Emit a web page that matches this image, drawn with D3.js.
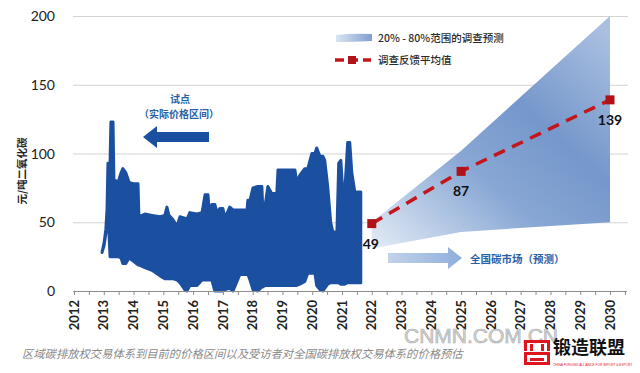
<!DOCTYPE html>
<html>
<head>
<meta charset="utf-8">
<script src="https://cdn.jsdelivr.net/npm/d3@7"></script>
<style>
  body { margin: 0; background: #fff; }
  svg { display: block; }
  .cjk { font-family: "Noto Sans CJK SC", sans-serif; }
  .num { font-family: Lato, "Liberation Sans", sans-serif; }
</style>
</head>
<body>
<div id="chart"></div>
<script>
const pilotYears = [2012.94, 2013.01, 2013.07, 2013.11, 2013.14, 2013.21, 2013.24, 2013.31, 2013.34, 2013.48,
  2013.58, 2013.64, 2013.74, 2013.85, 2013.98, 2014.15, 2014.18, 2014.38, 2014.62, 2014.89,
  2015.05, 2015.12, 2015.19, 2015.32, 2015.46, 2015.56, 2015.72, 2015.79, 2015.89, 2016.13,
  2016.30, 2016.40, 2016.50, 2016.56, 2016.63, 2016.73, 2016.80, 2016.90, 2017.00, 2017.07,
  2017.23, 2017.34, 2017.57, 2017.81, 2017.84, 2017.91, 2018.01, 2018.17, 2018.31, 2018.34,
  2018.41, 2018.51, 2018.64, 2018.81, 2018.85, 2019.42, 2019.48, 2019.58, 2019.75, 2019.85,
  2019.99, 2020.09, 2020.15, 2020.26, 2020.36, 2020.42, 2020.52, 2020.62, 2020.69, 2020.83,
  2020.89, 2020.96, 2021.03, 2021.09, 2021.19, 2021.26, 2021.33, 2021.43, 2021.63];
const pilotHigh = [28, 35, 45, 60, 93, 93, 123, 123, 81, 79,
  86, 89, 86, 79, 78, 78, 54, 56, 55, 54,
  55, 61, 55, 52, 47, 54, 53, 52, 57, 56,
  57, 70, 70, 53, 63, 63, 57, 60, 60, 53,
  61, 59, 59, 59, 66, 66, 75, 76, 76, 59,
  61, 76, 71, 71, 88, 88, 79, 84, 89, 89,
  100, 100, 104, 98, 98, 95, 76, 50, 43, 43,
  93, 95, 71, 71, 108, 108, 86, 72, 72];
const pilotLow = [28, 33, 42, 55, 58, 25, 25, 25, 25, 25,
  24, 20, 20, 24, 22, 19, 19, 17, 15, 11,
  9, 9, 9, 9, 8, 6, 1, 0, 4, 4,
  8, 8, 8, 8, 8, 0, 0, 0, 0, 1,
  2, 0, 12, 12, 12, 8, 1, 0, 3, 3,
  4, 4, 4, 4, 4, 4, 4, 5, 7, 13,
  13, 13, 4, 1, 0, 2, 5, 6, 6, 6,
  6, 5, 5, 5, 6, 6, 6, 6, 6];

// survey forecast
const forecastYears = [2022, 2025, 2030];
const forecastP80 = [50, 102, 200];
const forecastP20 = [31, 43, 50];
const forecastMean = [49, 87, 139];

const yearTicks = d3.range(2012, 2031);
const yTicks = [0, 50, 100, 150, 200];

const W = 640, H = 373;
const svg = d3.select("#chart").append("svg").attr("width", W).attr("height", H);

const x = d3.scaleLinear().domain([2012, 2030]).range([74, 610]);
const y = d3.scaleLinear().domain([0, 200]).range([291, 16]);

const defs = svg.append("defs");
const g1 = defs.append("linearGradient").attr("id", "fc").attr("x1", 0).attr("y1", 1).attr("x2", 0.9).attr("y2", 0);
g1.append("stop").attr("offset", "0%").attr("stop-color", "#e4ecf6");
g1.append("stop").attr("offset", "40%").attr("stop-color", "#88a7d4");
g1.append("stop").attr("offset", "65%").attr("stop-color", "#7597cb");
g1.append("stop").attr("offset", "100%").attr("stop-color", "#a9bfe0");
const g2 = defs.append("linearGradient").attr("id", "lg").attr("x1", 0).attr("x2", 1);
g2.append("stop").attr("offset", "0%").attr("stop-color", "#dbe5f2");
g2.append("stop").attr("offset", "100%").attr("stop-color", "#7f9fcf");
const g3 = defs.append("linearGradient").attr("id", "ar").attr("x1", 0).attr("x2", 1);
g3.append("stop").attr("offset", "0%").attr("stop-color", "#c2d3ea");
g3.append("stop").attr("offset", "100%").attr("stop-color", "#8eaedb");

// grid lines
svg.append("g")
  .attr("transform", "translate(73,0)")
  .call(d3.axisLeft(y).tickValues(yTicks.slice(1)).tickSize(-555).tickFormat(""))
  .call(g => g.select(".domain").remove())
  .call(g => g.selectAll("line").attr("stroke", "#d4d4d4"));

// y labels
svg.append("g").selectAll("text").data(yTicks).join("text")
  .attr("class", "num")
  .attr("x", 55).attr("y", d => y(d)).attr("dy", "0.36em")
  .attr("text-anchor", "end").attr("font-size", 14).attr("fill", "#222")
  .text(d => d);

// forecast band
svg.append("path")
  .datum(forecastYears.map((d, i) => [d, forecastP20[i], forecastP80[i]]))
  .attr("fill", "url(#fc)")
  .attr("d", d3.area().x(d => x(d[0])).y0(d => y(d[1])).y1(d => y(d[2])));

// pilot range
const pilot = pilotYears.map((d, i) => [d, pilotLow[i], pilotHigh[i]]);
svg.append("path")
  .datum(pilot)
  .attr("fill", "#1b4f9f").attr("stroke", "#1b4f9f").attr("stroke-width", 3)
  .attr("stroke-linejoin", "round")
  .attr("d", d3.area().x(d => x(d[0])).y0(d => y(d[1])).y1(d => y(d[2])));

// x axis
const xMinor = x.copy().domain([2012, 2030.5]).range([x(2012), x(2030.5)]);
svg.append("g")
  .attr("transform", "translate(0,291)")
  .call(d3.axisBottom(xMinor).tickValues(d3.range(2012, 2030.6, 0.5)).tickSize(4).tickFormat("").tickSizeOuter(0))
  .call(g => g.select(".domain").attr("stroke", "#8c8c8c").attr("d", `M73,0.5H627`))
  .call(g => g.selectAll("line").attr("stroke", "#8c8c8c"));

svg.append("g").selectAll("text").data(yearTicks).join("text")
  .attr("class", "num")
  .attr("transform", d => `translate(${x(d)},300) rotate(-90)`)
  .attr("text-anchor", "end").attr("dy", "0.36em")
  .attr("font-size", 13).attr("font-weight", "bold").attr("fill", "#222")
  .text(d => d);

// mean line
svg.append("path")
  .datum(forecastYears.map((d, i) => [d, forecastMean[i]]))
  .attr("fill", "none").attr("stroke", "#c3161c").attr("stroke-width", 3.5)
  .attr("stroke-dasharray", "12,8")
  .attr("d", d3.line().x(d => x(d[0])).y(d => y(d[1])));
svg.append("g").selectAll("rect").data(forecastYears).join("rect")
  .attr("x", d => x(d) - 4.5).attr("y", (d, i) => y(forecastMean[i]) - 4.5)
  .attr("width", 9).attr("height", 9).attr("fill", "#b01218");
svg.append("g").selectAll("text").data(forecastYears).join("text")
  .attr("class", "num")
  .attr("x", d => x(d) + (d === 2022 ? -1 : 0)).attr("y", (d, i) => y(forecastMean[i]) + 20)
  .attr("dy", "0.36em").attr("text-anchor", "middle")
  .attr("font-size", 14).attr("font-weight", "bold").attr("fill", "#111")
  .text((d, i) => forecastMean[i]);

// legend
svg.append("path").attr("d", "M336,35 Q354,33 372,34 L372,41 Q354,42 336,42 Z").attr("fill", "url(#lg)");
svg.append("text").attr("class", "cjk").attr("x", 378).attr("y", 38).attr("dy", "0.36em")
  .attr("font-size", 10.5).attr("font-weight", 500).attr("fill", "#2a2a2a").text("20% - 80%范围的调查预测");
svg.append("line").attr("x1", 335).attr("x2", 371).attr("y1", 60).attr("y2", 60)
  .attr("stroke", "#c3161c").attr("stroke-width", 3.5).attr("stroke-dasharray", "9,5");
svg.append("rect").attr("x", 348).attr("y", 56).attr("width", 8).attr("height", 8).attr("fill", "#b01218");
svg.append("text").attr("class", "cjk").attr("x", 378).attr("y", 60).attr("dy", "0.36em")
  .attr("font-size", 10.5).attr("font-weight", 500).attr("fill", "#2a2a2a").text("调查反馈平均值");

// annotations
svg.append("text").attr("class", "cjk").attr("x", 180).attr("y", 99).attr("dy", "0.36em")
  .attr("text-anchor", "middle").attr("font-size", 10).attr("font-weight", "bold").attr("fill", "#2a5fa8").text("试点");
svg.append("text").attr("class", "cjk").attr("x", 179).attr("y", 114).attr("dy", "0.36em")
  .attr("text-anchor", "middle").attr("font-size", 10).attr("font-weight", "bold").attr("fill", "#2a5fa8").text("（实际价格区间）");
svg.append("path").attr("d", "M143,137 L157,126 L157,132 L209,132 L209,142 L157,142 L157,148 Z").attr("fill", "#1b4f9f");
svg.append("path").attr("d", "M388,253 L448,253 L448,247 L462,258 L448,269 L448,263 L388,263 Z").attr("fill", "url(#ar)");
svg.append("text").attr("class", "cjk").attr("x", 470).attr("y", 259).attr("dy", "0.36em")
  .attr("font-size", 10.5).attr("font-weight", "bold").attr("fill", "#2a5fa8").text("全国碳市场（预测）");

// y title
svg.append("text").attr("class", "cjk")
  .attr("transform", "translate(22,171) rotate(-90)")
  .attr("text-anchor", "middle").attr("dy", "0.36em")
  .attr("font-size", 10.5).attr("font-weight", "bold").attr("fill", "#222").text("元/吨二氧化碳");

// caption + watermark
svg.append("text").attr("class", "cjk").attr("x", 22).attr("y", 354).attr("dy", "0.36em")
  .attr("font-size", 11.3).attr("font-style", "italic").attr("fill", "#8a8a8a")
  .text("区域碳排放权交易体系到目前的价格区间以及受访者对全国碳排放权交易体系的价格预估");
svg.append("text").attr("x", 404).attr("y", 343)
  .attr("font-family", "Liberation Sans, sans-serif").attr("font-size", 21)
  .attr("fill", "#d6d6d6").attr("stroke", "#aaaaaa").attr("stroke-width", 0.6)
  .text("CNMN.COM.CN");

// logo
const logo = svg.append("g").attr("transform", "translate(524,340)").attr("fill", "#e0141e");
logo.append("rect").attr("x", 0).attr("y", 0).attr("width", 26).attr("height", 3);
logo.append("rect").attr("x", 0).attr("y", 0).attr("width", 3).attr("height", 11);
logo.append("rect").attr("x", 23).attr("y", 0).attr("width", 3).attr("height", 11);
logo.append("rect").attr("x", 6).attr("y", 4).attr("width", 3).attr("height", 7);
logo.append("rect").attr("x", 17).attr("y", 4).attr("width", 3).attr("height", 7);
logo.append("rect").attr("x", 0).attr("y", 12).attr("width", 26).attr("height", 3);
logo.append("rect").attr("x", 0).attr("y", 15).attr("width", 3).attr("height", 10);
logo.append("rect").attr("x", 23).attr("y", 15).attr("width", 3).attr("height", 10);
logo.append("rect").attr("x", 6).attr("y", 18).attr("width", 14).attr("height", 3);
logo.append("rect").attr("x", 0).attr("y", 22).attr("width", 26).attr("height", 3);
svg.append("text").attr("class", "cjk").attr("x", 553).attr("y", 348).attr("dy", "0.36em")
  .attr("font-size", 18).attr("font-weight", "bold").attr("fill", "#111").text("锻造联盟");
svg.append("text").attr("x", 553).attr("y", 366)
  .attr("font-family", "Liberation Sans, sans-serif").attr("font-size", 3.2).attr("fill", "#e0141e")
  .text("CHINA FORGING ALLIANCE FOR IMPORT & EXPORT");
</script>
</body>
</html>
